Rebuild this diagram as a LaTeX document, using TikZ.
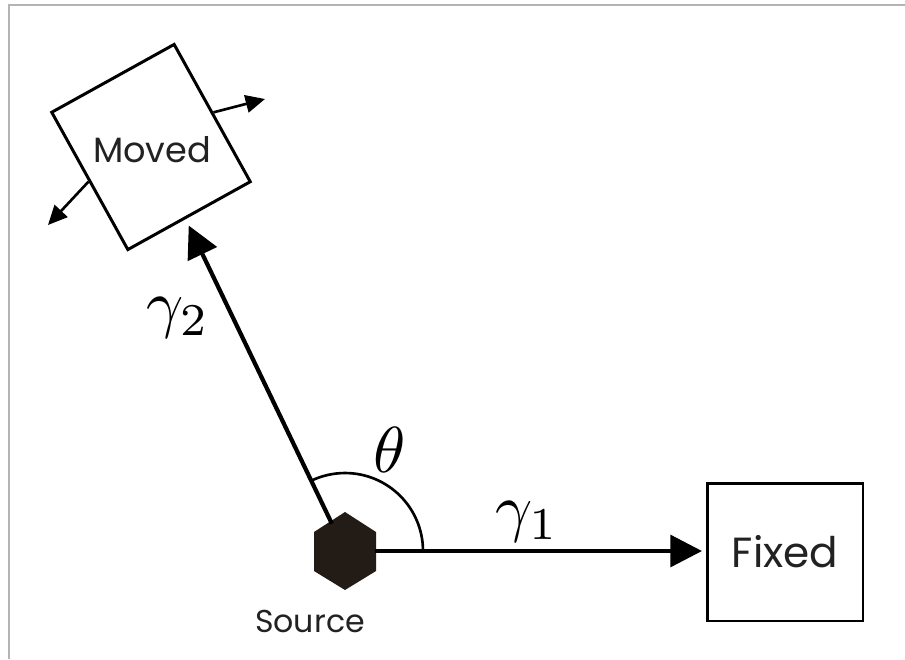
\documentclass[tikz,border=0pt]{standalone}
\usepackage{graphicx}
\usepackage{fontspec}
\setsansfont{Poppins}
\usepackage{tikz}
\usetikzlibrary{arrows.meta}
\definecolor{txtgray}{HTML}{222222}
\definecolor{edgegray}{HTML}{B4B4B4}
\definecolor{hexfill}{HTML}{231B16}
\newcommand{\bigmath}[1]{\scalebox{3.7}{$#1$}}
\tikzset{
  box_n/.style = {rectangle, draw=black, line width=1.7pt, inner sep=0pt},% boite
  src_n/.style = {circle, minimum size=1.2cm, inner sep=0pt},% source
  lbl_t/.style = {text=txtgray, inner sep=0pt},% texte
  greek_t/.style = {inner sep=0pt},
  ray_a/.style = {line width=2.4pt, -{Triangle[length=18pt,width=18pt]}},
  move_a/.style = {line width=1.5pt, -{Triangle[length=11pt,width=10pt]}}
}
\begin{document}
\begin{tikzpicture}[x=0.02cm, y=-0.02cm]
\useasboundingbox (0,0) rectangle (905,659);
\fill [white] (0,0) rectangle (905,659);
\draw [edgegray, line width=1pt] (9,659) -- (9,5) -- (905,5);
% boites et source
\node [src_n] (src) at (345,551) {};
\fill [hexfill] (src.center) ++(0,-39) -- ++(31,20) -- ++(0,39)
  -- ++(-31,19) -- ++(-31,-19) -- ++(0,-39) -- cycle;
\node [box_n, minimum width=3.12cm, minimum height=2.76cm] (fixed) at (785,552) {};
\node [box_n, rotate=29, minimum width=2.8cm, minimum height=3.14cm] (moved) at (151,147) {};
\node [lbl_t, font=\sffamily\fontsize{24}{28}\selectfont] (fixed_t) at (fixed) {Fixed};
\node [lbl_t, font=\sffamily\fontsize{20}{24}\selectfont] (moved_t) at (152,150) {Moved};
\node [lbl_t, font=\sffamily\fontsize{18}{22}\selectfont] (src_t) at (310,621) {Source};
\coordinate (m_ne) at (265,99);
\coordinate (m_sw) at (48,225);
% rayons
\draw [ray_a, shorten >=2pt] (src) -- (fixed.west |- src);
\draw [ray_a, shorten >=4pt] (src) -- (moved);
\draw [line width=1.5pt] (src.center) ++(0:1.56cm)
  arc[start angle=0, end angle=116, radius=1.56cm];
\draw [move_a] (moved.east) -- (m_ne);
\draw [move_a] (moved.west) -- (m_sw);
% etiquettes
\node [greek_t] (g1) at (527,522) {\bigmath{\gamma_1}};
\node [greek_t] (g2) at (178,318) {\bigmath{\gamma_2}};
\node [greek_t] (th) at (390,450) {\bigmath{\theta}};
\end{tikzpicture}
\end{document}
